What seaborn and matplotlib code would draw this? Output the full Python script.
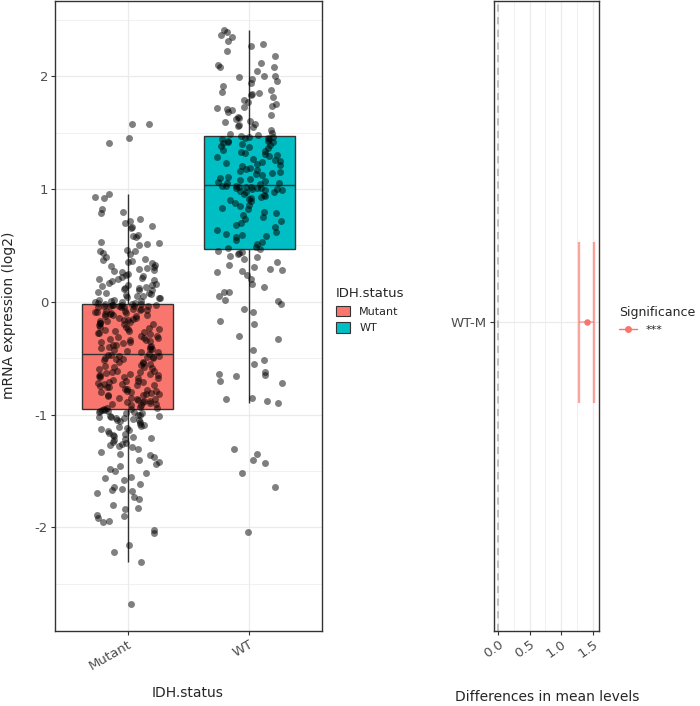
import numpy as np
import pandas as pd
import matplotlib
matplotlib.use("Agg")
import matplotlib.pyplot as plt
import seaborn as sns
from matplotlib.lines import Line2D
from matplotlib.patches import Patch

# ==============================
# DATA
# ==============================

groups = ["Mutant", "WT"]
group_colors = ["#F8766D", "#00BFC4"]

mutant_expr = [
    -2.68, -2.31, -2.22, -2.16, -2.05, -2.02, -1.95, -1.94, -1.92, -1.90,
    -1.89, -1.84, -1.83, -1.80, -1.75, -1.73, -1.70, -1.68, -1.67, -1.66,
    -1.64, -1.62, -1.58, -1.56, -1.55, -1.52, -1.50, -1.48, -1.46, -1.44,
    -1.42, -1.40, -1.38, -1.36, -1.35, -1.33, -1.31, -1.29, -1.28, -1.27,
    -1.26, -1.25, -1.24, -1.23, -1.22, -1.21, -1.20, -1.19, -1.18, -1.17,
    -1.16, -1.15, -1.14, -1.13, -1.12, -1.11, -1.10, -1.09, -1.08, -1.07,
    -1.06, -1.05, -1.05, -1.04, -1.03, -1.03, -1.02, -1.02, -1.01, -1.01,
    -1.00, -1.00, -0.99, -0.99, -0.98, -0.98, -0.97, -0.97, -0.96, -0.96,
    -0.95, -0.95, -0.94, -0.94, -0.93, -0.92, -0.92, -0.91, -0.91, -0.90,
    -0.89, -0.89, -0.88, -0.88, -0.87, -0.86, -0.86, -0.85, -0.85, -0.84,
    -0.83, -0.83, -0.82, -0.82, -0.81, -0.80, -0.80, -0.79, -0.79, -0.78,
    -0.77, -0.77, -0.76, -0.76, -0.75, -0.74, -0.74, -0.73, -0.73, -0.72,
    -0.71, -0.71, -0.70, -0.70, -0.69, -0.68, -0.68, -0.67, -0.67, -0.66,
    -0.65, -0.65, -0.64, -0.64, -0.63, -0.62, -0.62, -0.61, -0.61, -0.60,
    -0.59, -0.58, -0.58, -0.57, -0.56, -0.55, -0.54, -0.53, -0.53, -0.52,
    -0.51, -0.51, -0.50, -0.50, -0.49, -0.49, -0.48, -0.48, -0.47, -0.47,
    -0.46, -0.45, -0.45, -0.44, -0.43, -0.42, -0.42, -0.41, -0.40, -0.40,
    -0.39, -0.38, -0.38, -0.37, -0.36, -0.36, -0.35, -0.34, -0.34, -0.33,
    -0.32, -0.32, -0.31, -0.30, -0.30, -0.29, -0.28, -0.28, -0.27, -0.26,
    -0.26, -0.25, -0.24, -0.24, -0.23, -0.22, -0.22, -0.21, -0.20, -0.20,
    -0.19, -0.19, -0.18, -0.17, -0.17, -0.16, -0.16, -0.15, -0.14, -0.14,
    -0.13, -0.13, -0.12, -0.12, -0.11, -0.11, -0.10, -0.10, -0.09, -0.09,
    -0.08, -0.08, -0.07, -0.07, -0.06, -0.06, -0.05, -0.05, -0.05, -0.04,
    -0.04, -0.04, -0.04, -0.04, -0.03, -0.03, -0.03, -0.03, -0.02, -0.02,
    -0.02, -0.01, -0.01, 0.00, 0.00, 0.01, 0.01, 0.02, 0.02, 0.03,
    0.03, 0.04, 0.05, 0.05, 0.06, 0.07, 0.08, 0.08, 0.09, 0.10,
    0.10, 0.11, 0.12, 0.12, 0.13, 0.14, 0.15, 0.15, 0.16, 0.17,
    0.18, 0.19, 0.20, 0.20, 0.21, 0.22, 0.23, 0.24, 0.25, 0.26,
    0.27, 0.28, 0.29, 0.30, 0.31, 0.32, 0.33, 0.34, 0.35, 0.36,
    0.37, 0.38, 0.40, 0.42, 0.43, 0.45, 0.45, 0.46, 0.50, 0.51,
    0.52, 0.53, 0.57, 0.58, 0.59, 0.65, 0.66, 0.67, 0.70, 0.72,
    0.73, 0.79, 0.80, 0.82, 0.92, 0.93, 0.96, 1.41, 1.45, 1.58,
    1.58,
]

wt_expr = [
    -2.04, -1.64, -1.52, -1.43, -1.40, -1.35, -1.31, -0.90, -0.88, -0.86,
    -0.85, -0.72, -0.70, -0.66, -0.65, -0.64, -0.62, -0.55, -0.52, -0.43,
    -0.33, -0.30, -0.20, -0.17, -0.09, -0.06, -0.02, 0.01, 0.02, 0.05,
    0.09, 0.09, 0.13, 0.16, 0.20, 0.24, 0.26, 0.27, 0.28, 0.29,
    0.31, 0.33, 0.35, 0.38, 0.40, 0.41, 0.42, 0.43, 0.44, 0.45,
    0.47, 0.48, 0.49, 0.51, 0.53, 0.55, 0.57, 0.58, 0.59, 0.60,
    0.62, 0.64, 0.66, 0.68, 0.70, 0.72, 0.73, 0.75, 0.77, 0.79,
    0.80, 0.82, 0.83, 0.85, 0.86, 0.88, 0.89, 0.90, 0.91, 0.92,
    0.93, 0.94, 0.95, 0.96, 0.97, 0.97, 0.98, 0.99, 0.99, 1.00,
    1.00, 1.01, 1.01, 1.01, 1.02, 1.02, 1.02, 1.03, 1.03, 1.03,
    1.04, 1.05, 1.05, 1.06, 1.07, 1.08, 1.09, 1.10, 1.11, 1.12,
    1.13, 1.14, 1.15, 1.16, 1.17, 1.18, 1.19, 1.20, 1.21, 1.22,
    1.23, 1.24, 1.25, 1.26, 1.27, 1.28, 1.29, 1.30, 1.31, 1.32,
    1.33, 1.34, 1.35, 1.36, 1.37, 1.38, 1.39, 1.40, 1.41, 1.42,
    1.42, 1.43, 1.43, 1.44, 1.44, 1.45, 1.45, 1.46, 1.46, 1.47,
    1.48, 1.49, 1.50, 1.52, 1.55, 1.56, 1.57, 1.58, 1.59, 1.60,
    1.62, 1.63, 1.64, 1.66, 1.68, 1.70, 1.71, 1.72, 1.73, 1.74,
    1.75, 1.77, 1.79, 1.82, 1.83, 1.84, 1.85, 1.86, 1.88, 1.91,
    1.94, 1.96, 1.98, 1.99, 2.00, 2.00, 2.05, 2.08, 2.08, 2.10,
    2.12, 2.18, 2.22, 2.27, 2.29, 2.31, 2.35, 2.37, 2.39, 2.41,
]

# Tukey comparison
comparison = ["WT-M"]
diff = [1.40]
lwr = [1.28]
upr = [1.52]
signif = ["***"]

df = pd.DataFrame({
    "IDH.status": ["Mutant"] * len(mutant_expr) + ["WT"] * len(wt_expr),
    "expr": mutant_expr + wt_expr,
})

# ==============================
# FIGURE
# ==============================

sns.set_style("white")
plt.rcParams["font.family"] = ["DejaVu Sans"]

W, H = 700, 706
fig = plt.figure(figsize=(7, 7.06), dpi=100)
ax1 = fig.add_axes([55 / W, 1 - 631 / H, 267 / W, 631 / H - 0.001])
ax2 = fig.add_axes([494 / W, 1 - 631 / H, 105 / W, 631 / H - 0.001])

tick_col = "#4D4D4D"
grid_col = "#EBEBEB"
edge_col = "#333333"

# --- left panel: boxplot + jitter
sns.boxplot(data=df, x="IDH.status", y="expr", hue="IDH.status", order=groups,
            hue_order=groups, palette=group_colors, width=0.75, showfliers=False,
            showcaps=False, linewidth=1.0, linecolor=edge_col, saturation=1,
            legend=False, ax=ax1)
np.random.seed(3)
sns.stripplot(data=df, x="IDH.status", y="expr", order=groups, color="black",
              alpha=0.5, size=5, jitter=0.27, linewidth=0, zorder=3, ax=ax1)

ax1.set_xlim(-0.6, 1.6)
ax1.set_ylim(-2.92, 2.67)
ax1.set_yticks([-2, -1, 0, 1, 2])
ax1.set_yticks([-2.5, -1.5, -0.5, 0.5, 1.5, 2.5], minor=True)
ax1.set_yticklabels(["-2", "-1", "0", "1", "2"])
ax1.grid(True, which="major", color=grid_col, lw=0.9)
ax1.grid(True, which="minor", axis="y", color=grid_col, lw=0.5)
ax1.set_axisbelow(True)
ax1.set_xlabel("")
ax1.set_ylabel("")
plt.setp(ax1.get_xticklabels(), rotation=30, ha="right", rotation_mode="anchor")

# --- right panel: difference in means
y_pos = np.arange(len(comparison))
ax2.axvline(0, ls=(0, (4, 3)), color="#BBBBBB", lw=1.3, zorder=1)
ax2.hlines(y_pos, lwr, upr, color="#F8766D", alpha=0.6, lw=1.2, zorder=2)
for y, lo, hi in zip(y_pos, lwr, upr):
    ax2.vlines([lo, hi], y - 0.153, y + 0.153, color="#F8766D", alpha=0.65, lw=1.7, zorder=2)
sns.scatterplot(x=diff, y=y_pos, color="#F8766D", s=22, linewidth=0, zorder=3, ax=ax2)

ax2.set_xlim(-0.063, 1.595)
ax2.set_ylim(-0.587, 0.612)
ax2.set_xticks([0, 0.5, 1.0, 1.5])
ax2.set_xticks([0.25, 0.75, 1.25], minor=True)
ax2.set_xticklabels(["0.0", "0.5", "1.0", "1.5"])
ax2.set_yticks(y_pos)
ax2.set_yticklabels(comparison)
ax2.grid(True, which="major", color=grid_col, lw=0.9)
ax2.grid(True, which="minor", axis="x", color=grid_col, lw=0.5)
ax2.set_axisbelow(True)
plt.setp(ax2.get_xticklabels(), rotation=35, ha="right", rotation_mode="anchor")

for ax in (ax1, ax2):
    for sp in ax.spines.values():
        sp.set_color(edge_col)
        sp.set_linewidth(1.0)
    ax.tick_params(which="major", length=3, width=0.8, color=edge_col,
                   labelcolor=tick_col, labelsize=9.5, pad=2,
                   bottom=True, left=True)
    ax.tick_params(which="minor", length=0)

# --- axis titles
fig.text(188 / W, 1 - 693 / H, "IDH.status", ha="center", va="center", fontsize=10)
fig.text(547 / W, 1 - 697 / H, "Differences in mean levels", ha="center", va="center", fontsize=10)
fig.text(9 / W, 1 - 315 / H, "mRNA expression (log2)", ha="center", va="center",
         rotation=90, fontsize=10)

# --- legends
box_handles = [Patch(facecolor=c, edgecolor=edge_col, lw=0.8) for c in group_colors]
leg1 = fig.legend(box_handles, groups, title="IDH.status", loc="upper left",
                  bbox_to_anchor=(326 / W, 1 - 277 / H), frameon=False,
                  fontsize=8, title_fontsize=9.5, handlelength=1.3, handleheight=1.1,
                  labelspacing=0.5, alignment="left")

sig_handles = [Line2D([0], [0], color="#F8766D", marker="o", markersize=4, lw=1)]
leg2 = fig.legend(sig_handles, signif, title="Significance", loc="upper left",
                  bbox_to_anchor=(609 / W, 1 - 296 / H), frameon=False,
                  fontsize=8, title_fontsize=9, handlelength=1.6,
                  alignment="left")

fig.savefig("out.png", dpi=100)
